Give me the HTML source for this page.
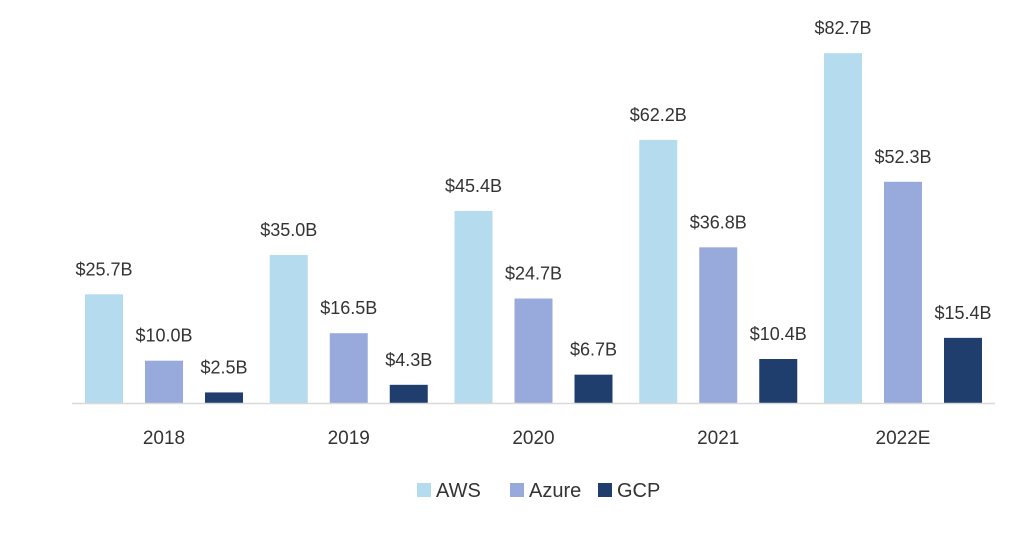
<!DOCTYPE html>
<html><head><meta charset="utf-8"><style>
body{margin:0;background:#fff;}
svg text{font-family:"Liberation Sans",sans-serif;fill:#333;}
</style></head><body>
<svg width="1024" height="547">
<g id="bars"></g>
<line x1="72" y1="403.5" x2="995" y2="403.5" stroke="#d9d9d9" stroke-width="1.5"/>
<g>
<rect x="417" y="483" width="14" height="14" fill="#b4dbee"/>
<text x="436" y="497" font-size="20">AWS</text>
<rect x="510" y="483" width="14" height="14" fill="#98aadb"/>
<text x="529" y="497" font-size="20">Azure</text>
<rect x="598" y="483" width="14" height="14" fill="#1f3e6d"/>
<text x="617" y="497" font-size="20">GCP</text>
</g>
</svg>
<script>
const categories=["2018","2019","2020","2021","2022E"];
const aws=[25.7,35.0,45.4,62.2,82.7];
const azure=[10.0,16.5,24.7,36.8,52.3];
const gcp=[2.5,4.3,6.7,10.4,15.4];
const seriesNames=["aws","azure","gcp"];
const colors=["#b4dbee","#98aadb","#1f3e6d"];
const base=403, scale=4.23, groupStep=184.75, x0=85, barW=38, inner=60;
const yOf=v=>base-v*scale;
const g=document.getElementById('bars');
const NS="http://www.w3.org/2000/svg";
[aws,azure,gcp].forEach((vals,s)=>{
  vals.forEach((v,i)=>{
    const x=x0+i*groupStep+s*inner;
    const r=document.createElementNS(NS,'rect');
    r.setAttribute('x',x);r.setAttribute('y',yOf(v));
    r.setAttribute('width',barW);r.setAttribute('height',base-yOf(v));
    r.setAttribute('fill',colors[s]);
    
    
    g.appendChild(r);
    const t=document.createElementNS(NS,'text');
    t.setAttribute('x',x+barW/2);t.setAttribute('y',yOf(v)-19);
    t.setAttribute('text-anchor','middle');t.setAttribute('font-size','18');
    t.textContent='$'+v.toFixed(1)+'B';
    
    
    g.appendChild(t);
  });
});
categories.forEach((c,i)=>{
  const t=document.createElementNS(NS,'text');
  t.setAttribute('x',x0+i*groupStep+inner+barW/2);t.setAttribute('y',444);
  t.setAttribute('text-anchor','middle');t.setAttribute('font-size','19');
  t.textContent=c;
  
  
  g.appendChild(t);
});
</script>
</body></html>
